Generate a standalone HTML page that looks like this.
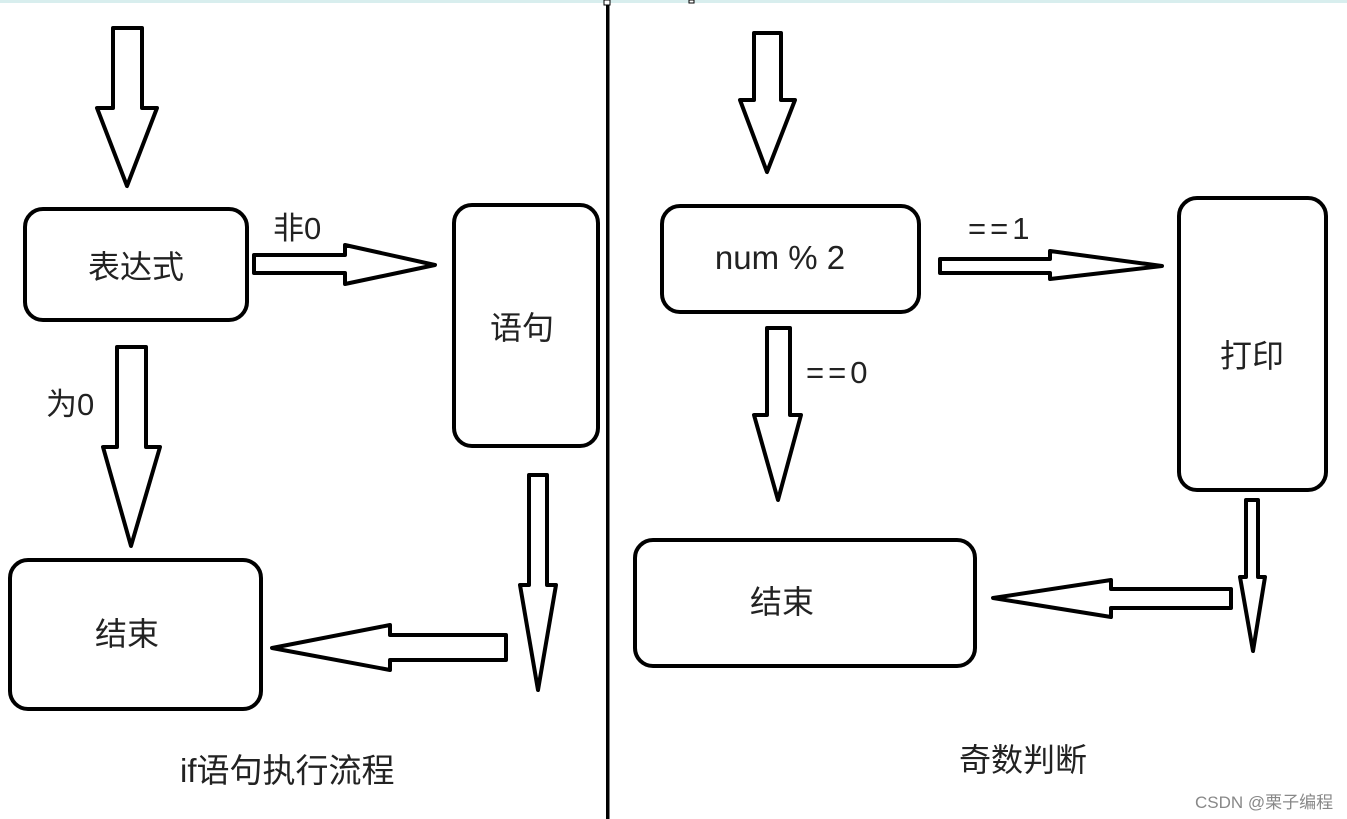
<!DOCTYPE html>
<html><head><meta charset="utf-8"><style>
html,body{margin:0;padding:0;background:#fff;}
svg{display:block}
text{font-family:"Liberation Sans","Noto Sans CJK SC",sans-serif;fill:#222;}
</style></head><body>
<svg width="1347" height="819" viewBox="0 0 1347 819" xmlns="http://www.w3.org/2000/svg">
<rect x="0" y="0" width="1347" height="3" fill="#d8eeee"/>
<rect x="606" y="0" width="3.5" height="819" fill="#000"/>
<rect x="604" y="0" width="6" height="5" fill="#fff" stroke="#000" stroke-width="1"/>
<rect x="689" y="0" width="5" height="3" fill="#fff" stroke="#000" stroke-width="1"/>
<g fill="#fff" stroke="#000" stroke-width="4" stroke-linejoin="round">
<rect x="25" y="209" width="222" height="111" rx="18"/>
<rect x="454" y="205" width="144" height="241" rx="18"/>
<rect x="10" y="560" width="251" height="149" rx="18"/>
<rect x="662" y="206" width="257" height="106" rx="18"/>
<rect x="1179" y="198" width="147" height="292" rx="18"/>
<rect x="635" y="540" width="340" height="126" rx="18"/>
<polygon points="113,28 142,28 142,108 157,108 127,186 97,108 113,108"/>
<polygon points="254,255 345,255 345,245 435,265 345,284 345,273 254,273"/>
<polygon points="117,347 146,347 146,447 160,447 131,546 103,447 117,447"/>
<polygon points="529,475 547,475 547,585 556,585 538,690 520,585 529,585"/>
<polygon points="506,635 390,635 390,625 272,648 390,670 390,660 506,660"/>
<polygon points="754,33 781,33 781,100 795,100 767,172 740,100 754,100"/>
<polygon points="940,259 1050,259 1050,251 1162,266 1050,279 1050,273 940,273"/>
<polygon points="767,328 790,328 790,415 801,415 778,500 754,415 767,415"/>
<polygon points="1246,500 1258,500 1258,577 1265,577 1253,651 1240,577 1246,577"/>
<polygon points="1231,589 1111,589 1111,580 993,598 1111,617 1111,608 1231,608"/>
</g>
<g font-size="32" text-anchor="middle">
<text x="136" y="278">表达式</text>
<text x="522" y="339">语句</text>
<text x="127" y="645">结束</text>
<text x="780" y="269" font-size="33">num % 2</text>
<text x="1252" y="367">打印</text>
<text x="782" y="613">结束</text>
</g>
<g font-size="31">
<text x="273" y="239">非0</text>
<text x="46" y="415">为0</text>
<text x="968" y="239" letter-spacing="4">==1</text>
<text x="806" y="383" letter-spacing="4">==0</text>
<text x="180" y="782" font-size="33">if语句执行流程</text>
<text x="959" y="771" font-size="32">奇数判断</text>
</g>
<text x="1195" y="808" font-size="17" style="fill:#888">CSDN @栗子编程</text>
</svg>
</body></html>
